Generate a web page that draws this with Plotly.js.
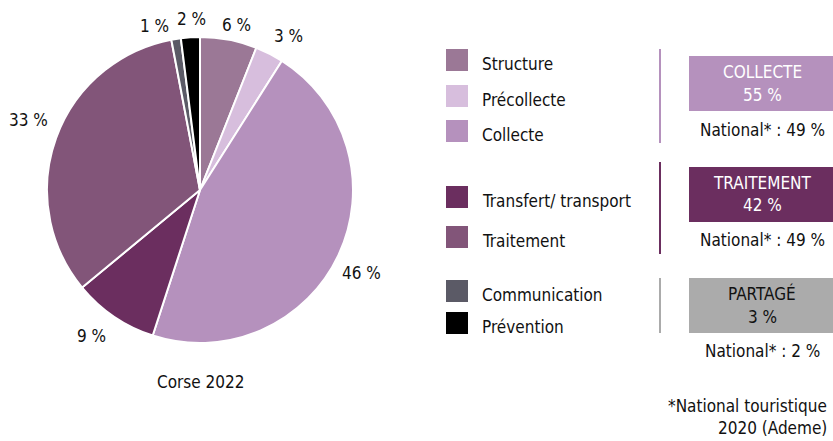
<!DOCTYPE html>
<html><head><meta charset="utf-8">
<script src="https://cdn.plot.ly/plotly-3.0.1.min.js"></script>
<style>html,body{margin:0;padding:0;background:#fff}#c{width:833px;height:441px}</style>
</head><body><div id="c"></div>
<script>
const labels = ["Structure","Précollecte","Collecte","Transfert/ transport","Traitement","Communication","Prévention"];
const values = [6,3,46,9,33,1,2];
const colors = ["#9b7896","#d7bedd","#b591bd","#6b2e5f","#825579","#5b5a66","#000000"];
const legendRows = [0,1,2,3,4,5,6];
const groupNames = ["COLLECTE","TRAITEMENT","PARTAGÉ"];
const groupValues = [55,42,3];
const nationalValues = [49,49,2];
const groupColors = ["#b591bd","#6b2e5f","#ababab"];
const groupTextColors = ["#ffffff","#ffffff","#111111"];
const chartTitle = "Corse 2022";
const footnote = ["*National touristique","2020 (Ademe)"];

const FONT = "'Liberation Sans Narrow','DejaVu Sans Condensed',sans-serif";
const W = 833, H = 441;
const px = x => x / W, py = y => 1 - y / H;

// pie geometry (pixels) and label placement style
const PIE = {cx:200, cy:190, r:153};
const labelNudge = [[4,6],[8,4],[-4,5],[-8,-1],[1,-8],[-18,8],[2,1]];

const shapes = [], annotations = [];

// slice value labels, placed from the cumulative values
const total = values.reduce((a,b)=>a+b,0);
let cum = 0;
values.forEach((v, i) => {
  const mid = (cum + v/2) / total; cum += v;
  const th = mid * 2 * Math.PI;
  const s = Math.sin(th), c = Math.cos(th);
  const txt = v + " %";
  const hw = txt.length * 4.5, hh = 9;
  const d = PIE.r + 10 + hw*Math.abs(s) + hh*Math.abs(c);
  const x = PIE.cx + d*s + labelNudge[i][0];
  const y = PIE.cy - d*c + labelNudge[i][1];
  annotations.push({xref:"paper", yref:"paper", x:px(x), y:py(y), xanchor:"center", yanchor:"middle", text:txt, showarrow:false, font:{family:FONT, size:17, color:"#111"}});
});

const legendY = [60, 96, 131, 197, 237, 291, 323];
legendRows.forEach((i, k) => {
  shapes.push({type:"rect", xref:"paper", yref:"paper", x0:px(446), x1:px(468), y0:py(legendY[k]-11), y1:py(legendY[k]+11), fillcolor:colors[i], line:{width:0}});
  annotations.push({xref:"paper", yref:"paper", x:px(480), y:py(legendY[k]+4), xanchor:"left", yanchor:"middle", text:labels[i], showarrow:false, font:{family:FONT, size:17, color:"#111"}});
});

const lineSpans = [[49,143],[162,254],[278,333]];
const boxSpans = [[56,111],[167,222],[278,333]];
const natY = [130, 240, 351];
groupNames.forEach((g, k) => {
  shapes.push({type:"line", xref:"paper", yref:"paper", x0:px(660), x1:px(660), y0:py(lineSpans[k][0]), y1:py(lineSpans[k][1]), line:{color:groupColors[k], width:2}});
  shapes.push({type:"rect", xref:"paper", yref:"paper", x0:px(689), x1:px(834), y0:py(boxSpans[k][0]), y1:py(boxSpans[k][1]), fillcolor:groupColors[k], line:{width:0}});
  const cy = (boxSpans[k][0] + boxSpans[k][1]) / 2;
  annotations.push({xref:"paper", yref:"paper", x:px(762), y:py(cy-12), xanchor:"center", yanchor:"middle", text:g, showarrow:false, font:{family:FONT, size:17, color:groupTextColors[k]}});
  annotations.push({xref:"paper", yref:"paper", x:px(762), y:py(cy+11), xanchor:"center", yanchor:"middle", text:groupValues[k] + " %", showarrow:false, font:{family:FONT, size:17, color:groupTextColors[k]}});
  annotations.push({xref:"paper", yref:"paper", x:px(762), y:py(natY[k]), xanchor:"center", yanchor:"middle", text:"National* : " + nationalValues[k] + " %", showarrow:false, font:{family:FONT, size:17, color:"#111"}});
});
annotations.push({xref:"paper", yref:"paper", x:px(200), y:py(382), xanchor:"center", yanchor:"middle", text:chartTitle, showarrow:false, font:{family:FONT, size:17, color:"#111"}});
annotations.push({xref:"paper", yref:"paper", x:px(829), y:py(406), xanchor:"right", yanchor:"middle", text:footnote[0], showarrow:false, font:{family:FONT, size:17, color:"#111"}});
annotations.push({xref:"paper", yref:"paper", x:px(829), y:py(428), xanchor:"right", yanchor:"middle", text:footnote[1], showarrow:false, font:{family:FONT, size:17, color:"#111"}});

const trace = {
  type:"pie", labels:labels, values:values, sort:false, direction:"clockwise", rotation:0,
  marker:{colors:colors, line:{color:"#ffffff", width:2}},
  textinfo:"none", textposition:"none",
  hoverinfo:"label+value", showlegend:false, automargin:false,
  domain:{x:[px(PIE.cx-PIE.r), px(PIE.cx+PIE.r)], y:[py(PIE.cy+PIE.r), py(PIE.cy-PIE.r)]}
};
Plotly.newPlot("c", [trace], {
  width:W, height:H, margin:{l:0,r:0,t:0,b:0}, paper_bgcolor:"#fff", plot_bgcolor:"#fff",
  showlegend:false, shapes:shapes, annotations:annotations
}, {displayModeBar:false, staticPlot:true});
</script></body></html>
